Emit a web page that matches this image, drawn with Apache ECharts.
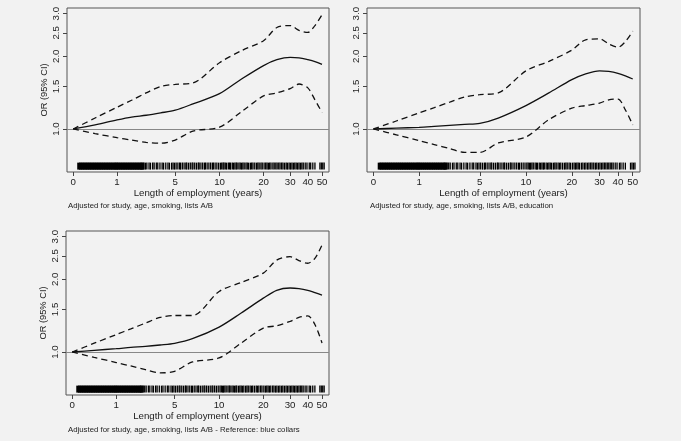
<!DOCTYPE html>
<html><head><meta charset="utf-8">
<script src="https://cdn.jsdelivr.net/npm/echarts@6/dist/echarts.min.js"></script>
<style>html,body{margin:0;padding:0;background:#f2f2f2}#c{width:681px;height:441px}</style>
</head><body><div id="c"></div>
<script>
// ---- axis definitions ----
const TICK_YEARS = [0, 1, 5, 10, 20, 30, 40, 50];
const TICK_POS   = [0, 0.176, 0.41, 0.588, 0.765, 0.872, 0.943, 1]; // transformed x scale
const Y_TICKS    = [1.0, 1.5, 2.0, 2.5, 3.0];

// ---- data (years of employment, odds ratios) ----
const YEARS = [0, 0.5, 1, 2, 3, 4, 5, 7, 10, 15, 20, 25, 30, 35, 40, 45, 50];

const OR1 = [1.0, 1.04, 1.09, 1.12, 1.14, 1.166, 1.196, 1.27, 1.40, 1.61, 1.83, 1.935, 1.98, 1.97, 1.935, 1.90, 1.85];
const HI1 = [1.0, 1.11, 1.23, 1.315, 1.41, 1.50, 1.53, 1.55, 1.88, 2.11, 2.32, 2.63, 2.68, 2.56, 2.51, 2.68, 2.97];
const LO1 = [1.0, 0.957, 0.92, 0.90, 0.88, 0.873, 0.90, 0.98, 1.017, 1.18, 1.37, 1.41, 1.47, 1.535, 1.48, 1.32, 1.17];

const OR2 = [1.0, 1.008, 1.016, 1.025, 1.035, 1.045, 1.055, 1.11, 1.25, 1.41, 1.60, 1.69, 1.74, 1.73, 1.70, 1.66, 1.61];
const HI2 = [1.0, 1.079, 1.165, 1.225, 1.29, 1.356, 1.387, 1.41, 1.74, 1.905, 2.12, 2.34, 2.36, 2.25, 2.18, 2.30, 2.54];
const LO2 = [1.0, 0.946, 0.895, 0.862, 0.83, 0.80, 0.80, 0.875, 0.927, 1.093, 1.22, 1.25, 1.28, 1.32, 1.33, 1.20, 1.04];

const OR3 = [1.0, 1.016, 1.032, 1.045, 1.055, 1.069, 1.086, 1.135, 1.268, 1.45, 1.67, 1.80, 1.84, 1.83, 1.80, 1.76, 1.72];
const HI3 = [1.0, 1.087, 1.18, 1.246, 1.317, 1.39, 1.416, 1.416, 1.78, 1.94, 2.12, 2.40, 2.48, 2.39, 2.33, 2.44, 2.77];
const LO3 = [1.0, 0.95, 0.904, 0.875, 0.845, 0.819, 0.832, 0.909, 0.945, 1.089, 1.256, 1.284, 1.338, 1.39, 1.41, 1.30, 1.09];

// rug of observed employment lengths (years)
const RUG_DENSE = [0.13,0.17,0.21,0.25,0.29,0.33,0.37,0.41,0.45,0.49,0.53,0.57,0.61,0.65,0.69,0.73,0.77,0.81,0.85,0.89,0.93,0.97,1.0,1.12,1.24,1.36,1.48,1.6,1.72,1.84,1.96,2.08,2.2,2.32,2.44,2.56,2.68,2.75];
const RUG_SPARSE = [2.85,2.95,3.05,3.2,3.3,3.45,3.55,3.7,3.8,3.95,4.1,4.2,4.35,4.5,4.6,4.75,4.85,4.95,
  5.1,5.3,5.5,5.6,5.8,6.0,6.2,6.3,6.5,6.7,6.9,7.0,7.2,7.4,7.6,7.7,7.9,8.1,8.3,8.4,8.6,8.8,9.0,9.2,9.3,9.5,9.7,9.9,
  10.2,10.5,10.8,11.0,11.3,11.6,12.0,12.3,12.5,12.9,13.2,13.5,13.8,14.0,14.4,14.7,15.0,15.3,15.6,16.0,16.3,16.6,17.0,17.3,17.6,18.0,18.4,18.7,19.0,19.4,19.7,
  20.2,20.8,21.3,21.8,22.3,22.8,23.5,24.0,24.6,25.1,25.7,26.2,26.8,27.3,27.9,28.5,29.0,29.6,
  30.2,31.0,31.8,32.6,33.4,34.2,35.0,35.8,36.6,37.4,38.5,39.5,
  41,42,43.5,45,48.5,49.5,50.5,51.5];

const CAPTIONS = [
  'Adjusted for study, age, smoking, lists A/B',
  'Adjusted for study, age, smoking, lists A/B, education',
  'Adjusted for study, age, smoking, lists A/B - Reference: blue collars'
];
const X_TITLE = 'Length of employment (years)';
const Y_TITLE = 'OR (95% CI)';

// ---- scale helpers ----
function T(y) {
  const n = TICK_YEARS.length;
  if (y >= TICK_YEARS[n - 1]) {
    const s = (TICK_POS[n - 1] - TICK_POS[n - 2]) / (TICK_YEARS[n - 1] - TICK_YEARS[n - 2]);
    return TICK_POS[n - 1] + (y - TICK_YEARS[n - 1]) * s;
  }
  for (let i = 0; i < n - 1; i++) {
    if (y <= TICK_YEARS[i + 1]) {
      const f = (y - TICK_YEARS[i]) / (TICK_YEARS[i + 1] - TICK_YEARS[i]);
      return TICK_POS[i] + f * (TICK_POS[i + 1] - TICK_POS[i]);
    }
  }
}
const X_TICK_VALUES = TICK_YEARS.map(T);
const Y_TICK_VALUES = Y_TICKS.map(Math.log);
const RUG_LEVEL = -0.354;

const FONT = "'Liberation Sans', Arial, sans-serif";
const panels = [
  {or: OR1, hi: HI1, lo: LO1, grid: {left: 67, top: 8, width: 262, height: 164}, ytitle: true, cap: [68, 201]},
  {or: OR2, hi: HI2, lo: LO2, grid: {left: 367, top: 8, width: 273, height: 164}, ytitle: false, cap: [370, 201]},
  {or: OR3, hi: HI3, lo: LO3, grid: {left: 66, top: 231, width: 263, height: 164}, ytitle: true, cap: [68, 425]}
];

const grids = [], xAxes = [], yAxes = [], series = [], graphics = [];
panels.forEach((p, i) => {
  grids.push(Object.assign({show: true, borderColor: '#555', borderWidth: 1, backgroundColor: 'transparent'}, p.grid));
  xAxes.push({
    type: 'value', gridIndex: i, min: -0.025, max: 1.028, position: 'bottom',
    axisLine: {show: false, onZero: false}, splitLine: {show: false},
    axisTick: {show: true, length: 4, customValues: X_TICK_VALUES, lineStyle: {color: '#444'}},
    axisLabel: {
      customValues: X_TICK_VALUES, fontSize: 9.7, color: '#222', margin: 5, fontFamily: FONT,
      formatter: v => {
        const k = X_TICK_VALUES.findIndex(t => Math.abs(t - v) < 1e-6);
        return k >= 0 ? String(TICK_YEARS[k]) : '';
      }
    },
    name: X_TITLE, nameLocation: 'middle', nameGap: 14.5,
    nameTextStyle: {fontSize: 9.7, color: '#222', fontFamily: FONT}
  });
  yAxes.push({
    type: 'value', gridIndex: i, min: -0.41, max: 1.153, position: 'left',
    axisLine: {show: false, onZero: false}, splitLine: {show: false},
    axisTick: {show: true, length: 4, customValues: Y_TICK_VALUES, lineStyle: {color: '#444'}},
    axisLabel: {
      customValues: Y_TICK_VALUES, rotate: 90, fontSize: 9.7, color: '#222', margin: 6, fontFamily: FONT,
      formatter: v => Math.exp(v).toFixed(1)
    },
    name: p.ytitle ? Y_TITLE : '', nameLocation: 'middle', nameGap: 18, nameRotate: 90,
    nameTextStyle: {fontSize: 9.3, color: '#222', fontFamily: FONT}
  });
  const toData = arr => YEARS.map((y, k) => [T(y), Math.log(arr[k])]);
  series.push({
    type: 'line', xAxisIndex: i, yAxisIndex: i, data: toData(p.or), smooth: 0.3, symbol: 'none',
    lineStyle: {color: '#111', width: 1.3}, z: 5,
    markLine: {silent: true, symbol: ['none', 'none'], label: {show: false},
      lineStyle: {color: '#888', width: 1, type: 'solid'}, data: [{yAxis: 0}]}
  });
  [p.hi, p.lo].forEach(arr => series.push({
    type: 'line', xAxisIndex: i, yAxisIndex: i, data: toData(arr), smooth: 0.3, symbol: 'none',
    lineStyle: {color: '#111', width: 1.3, type: [6, 4]}, z: 5
  }));
  series.push({
    type: 'scatter', xAxisIndex: i, yAxisIndex: i, symbol: 'rect', symbolSize: [3.4, 7],
    itemStyle: {color: '#000', opacity: 1}, silent: true,
    data: RUG_DENSE.map(y => [T(y), RUG_LEVEL])
  });
  series.push({
    type: 'scatter', xAxisIndex: i, yAxisIndex: i, symbol: 'rect', symbolSize: [1.3, 7],
    itemStyle: {color: '#000', opacity: 1}, silent: true,
    data: RUG_SPARSE.map(y => [T(y), RUG_LEVEL])
  });
  graphics.push({
    type: 'text', left: p.cap[0], top: p.cap[1] + 0.5,
    style: {text: CAPTIONS[i], fontSize: 7.8, fill: '#222', fontFamily: FONT}
  });
});

const chart = echarts.init(document.getElementById('c'), null, {renderer: 'canvas'});
chart.setOption({
  backgroundColor: '#f2f2f2',
  animation: false,
  grid: grids, xAxis: xAxes, yAxis: yAxes, series: series, graphic: graphics
});
</script></body></html>
